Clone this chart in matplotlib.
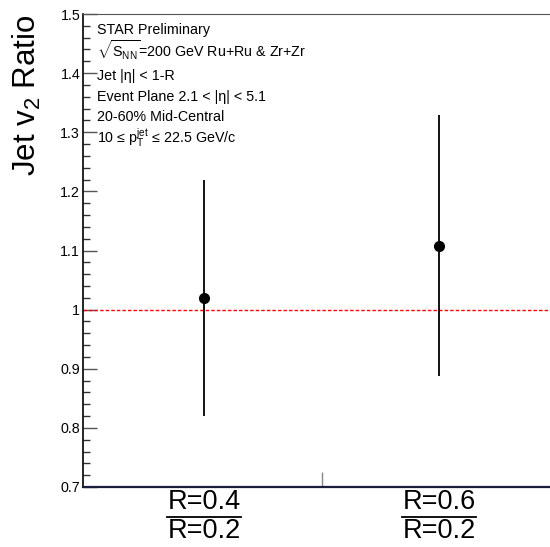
import numpy as np
import matplotlib.pyplot as plt
from matplotlib.ticker import FixedLocator, FuncFormatter
import matplotlib.transforms as mtransforms

plt.rcParams['font.family'] = ['Liberation Sans', 'DejaVu Sans']
plt.rcParams['mathtext.fontset'] = 'custom'
plt.rcParams['mathtext.rm'] = 'Liberation Sans'
plt.rcParams['mathtext.it'] = 'Liberation Sans:italic'
plt.rcParams['mathtext.sf'] = 'Liberation Sans'

# data
kategori = [0, 1]
oran = [1.02, 1.108]
hata = [0.20, 0.221]
pay = ['R=0.4', 'R=0.6']
payda = ['R=0.2', 'R=0.2']

info = [
    'STAR Preliminary',
    r'$\sqrt{\mathrm{S_{NN}}}$=200 GeV Ru+Ru & Zr+Zr',
    'Jet |η| < 1-R',
    'Event Plane 2.1 < |η| < 5.1',
    '20-60% Mid-Central',
    r'10 ≤ p$_{\mathrm{T}}^{\mathrm{jet}}$ ≤ 22.5 GeV/c',
]

W, H = 550, 547
fig = plt.figure(figsize=(5.5, 5.47), dpi=100)
ax = fig.add_axes([83 / W, 1 - 487 / H, 466 / W, 473 / H])

ax.errorbar(kategori, oran, yerr=hata, fmt='o', color='black', ms=7,
            elinewidth=1.3, capsize=0, zorder=3)
ax.axhline(1.0, color='red', lw=1.0, ls=(0, (2.5, 1.5)), zorder=2)

ax.set_xlim(-0.515, 1.468)
ax.set_ylim(0.7, 1.5)
ana = np.round(np.arange(0.7, 1.5001, 0.1), 2)
ara = [v for v in np.round(np.arange(0.7, 1.5001, 0.02), 2) if not np.isclose(v, ana).any()]
ax.yaxis.set_major_locator(FixedLocator(ana))
ax.yaxis.set_minor_locator(FixedLocator(ara))
ax.yaxis.set_major_formatter(FuncFormatter(lambda v, p: '%g' % round(v, 2)))
ax.tick_params(axis='y', which='major', direction='in', length=10, width=1,
               color='#555555', labelsize=10.3, pad=2)
ax.tick_params(axis='y', which='minor', direction='in', length=5, width=1,
               color='#333333')
ax.set_xticks([0.5])
ax.set_xticklabels([])
ax.tick_params(axis='x', direction='in', length=11, width=1, color='#888888')

ax.spines['right'].set_visible(False)
ax.spines['top'].set_color('#555555')
ax.spines['left'].set_color('black')
ax.spines['bottom'].set_color('#1c1c3c')
ax.spines['bottom'].set_linewidth(1.6)
ax.spines['left'].set_linewidth(1.2)

# info text
ypix = [30, 50, 76, 97, 117, 138]
for s, yp in zip(info, ypix):
    fig.text(97 / W, 1 - yp / H, s, fontsize=10.3, va='center', ha='left')

# y label
fig.text(27 / W, 1 - 176 / H, r'Jet v$_{\mathrm{2}}$ Ratio', rotation=90,
         fontsize=22.5, ha='center', va='bottom')

# fraction labels under the points
trans = mtransforms.blended_transform_factory(ax.transData, fig.transFigure)
for x, a, b in zip(kategori, pay, payda):
    ax.text(x, 1 - 502 / H, a, transform=trans, fontsize=19.5, ha='center', va='center')
    ax.text(x, 1 - 531 / H, b, transform=trans, fontsize=19.5, ha='center', va='center')
    ax.plot([x - 0.157, x + 0.157], [1 - 517 / H, 1 - 517 / H], transform=trans,
            color='black', lw=1.3, clip_on=False)

fig.savefig('out.png', dpi=100)
